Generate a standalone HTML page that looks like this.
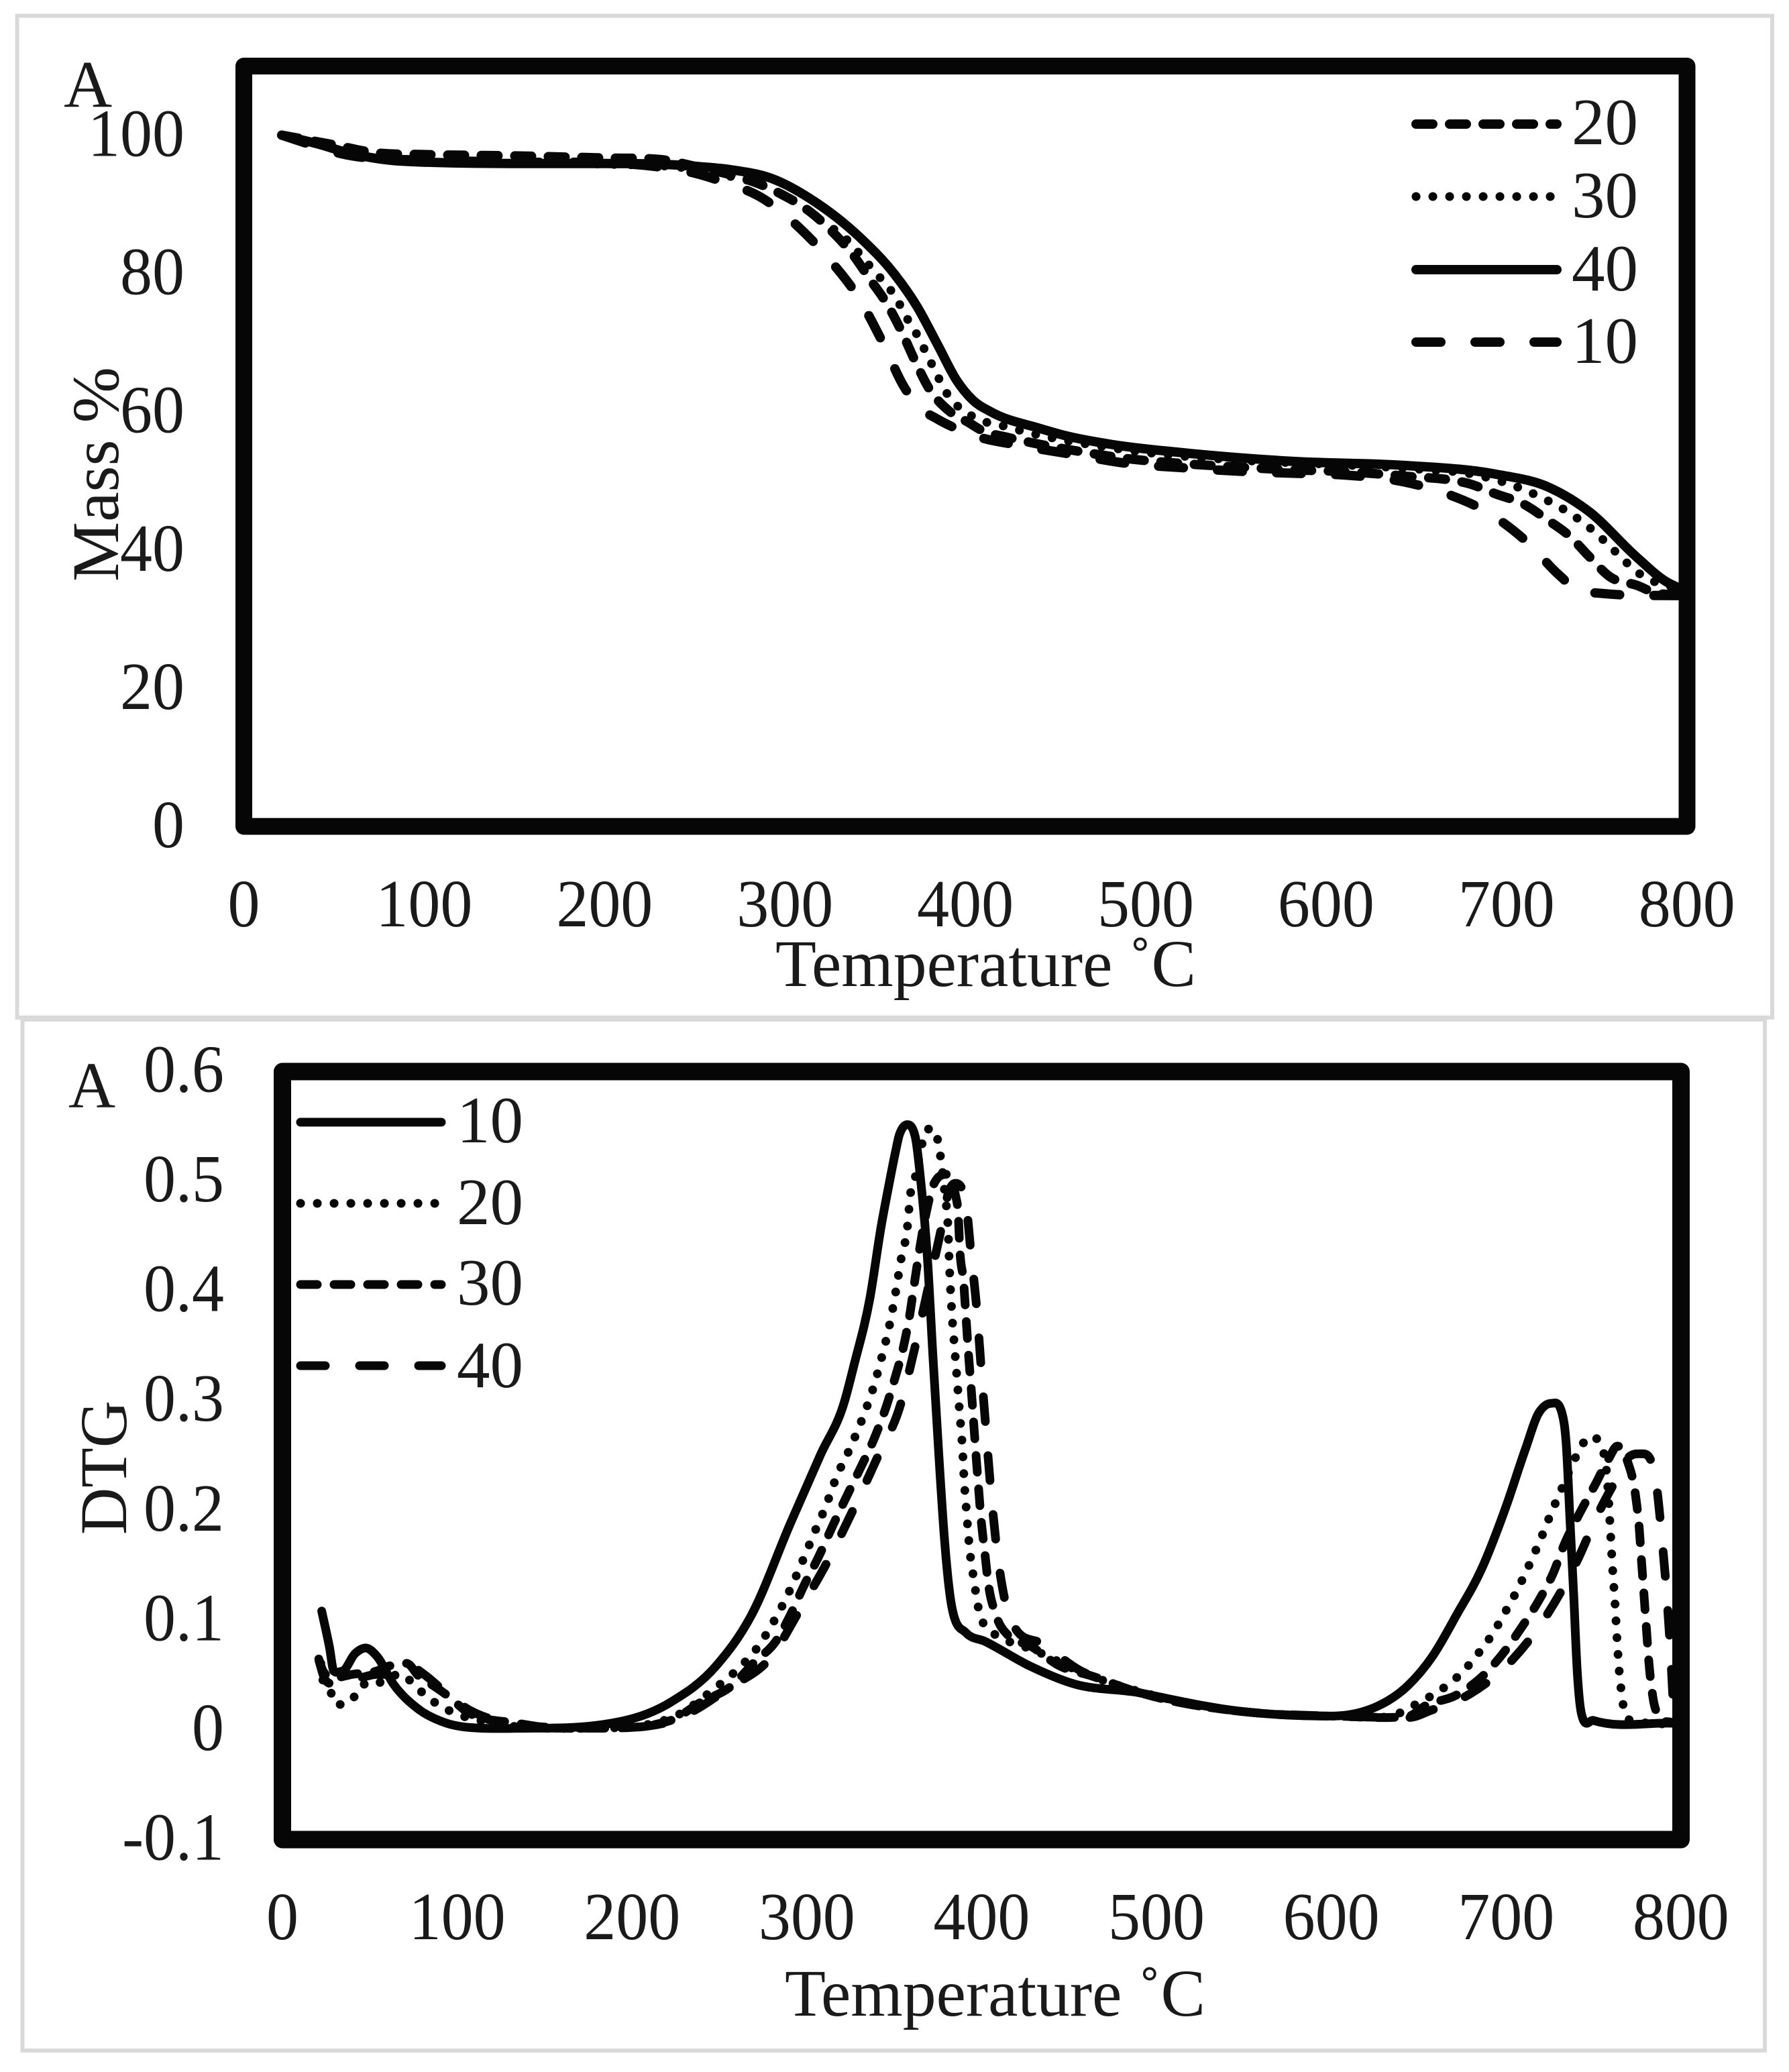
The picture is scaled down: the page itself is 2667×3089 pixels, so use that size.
<!DOCTYPE html>
<html lang="en">
<head>
<meta charset="utf-8">
<title>TGA and DTG curves</title>
<style>
html,body{margin:0;padding:0;background:#fff;}
svg{display:block;}
text{font-family:"Liberation Serif",serif;fill:#1a1a1a;font-size:99px;}
</style>
</head>
<body>
<svg id="fig" xmlns="http://www.w3.org/2000/svg" width="2667" height="3089" viewBox="0 0 2667 3089">
  <rect x="0" y="0" width="2667" height="3089" fill="#fff"/>
  <rect x="25.5" y="23.5" width="2616.5" height="1493.5" fill="none" stroke="#d9d9d9" stroke-width="6"/>
  <rect x="33.5" y="1520" width="2597.5" height="1537" fill="none" stroke="#d9d9d9" stroke-width="6"/>

  <g id="tga-series"></g>
  <g id="dtg-series"></g>

  <rect x="363.5" y="98.5" width="2151.5" height="1133.5" fill="none" stroke="#060606" stroke-width="25" stroke-linejoin="round"/>
  <rect x="421" y="1597.5" width="2085" height="1145" fill="none" stroke="#060606" stroke-width="26" stroke-linejoin="round"/>

  <g id="tga-ticks"></g>
  <g id="dtg-ticks"></g>

  <text x="95" y="159" style="font-size:100px">A</text>
  <text x="102" y="1651" style="font-size:97px">A</text>
  <text x="1156" y="1470" style="font-size:100px" textLength="627" lengthAdjust="spacingAndGlyphs">Temperature ˚C</text>
  <text x="1170" y="3005" style="font-size:100px" textLength="627" lengthAdjust="spacingAndGlyphs">Temperature ˚C</text>
  <text transform="translate(176 867) rotate(-90)" style="font-size:100px" textLength="320" lengthAdjust="spacingAndGlyphs">Mass %</text>
  <text transform="translate(188 2288) rotate(-90)" style="font-size:100px" textLength="200" lengthAdjust="spacingAndGlyphs">DTG</text>

  <g>
    <line x1="2111" y1="185" x2="2321" y2="185" stroke="#060606" stroke-width="14" stroke-linecap="round" stroke-dasharray="25 25"/>
    <line x1="2111" y1="293" x2="2312" y2="293" stroke="#060606" stroke-width="13" stroke-linecap="round" stroke-dasharray="0.1 24.9"/>
    <line x1="2111" y1="402" x2="2321" y2="402" stroke="#060606" stroke-width="14" stroke-linecap="round"/>
    <line x1="2111" y1="510" x2="2321" y2="510" stroke="#060606" stroke-width="14" stroke-linecap="round" stroke-dasharray="37 51"/>
    <text x="2442" y="215" text-anchor="end">20</text>
    <text x="2442" y="324" text-anchor="end">30</text>
    <text x="2442" y="433" text-anchor="end">40</text>
    <text x="2442" y="541" text-anchor="end">10</text>
  </g>
  <g>
    <line x1="448" y1="1673" x2="658" y2="1673" stroke="#060606" stroke-width="13" stroke-linecap="round"/>
    <line x1="448" y1="1794" x2="650" y2="1794" stroke="#060606" stroke-width="13" stroke-linecap="round" stroke-dasharray="0.1 24.9"/>
    <line x1="448" y1="1915" x2="658" y2="1915" stroke="#060606" stroke-width="13" stroke-linecap="round" stroke-dasharray="25 25"/>
    <line x1="448" y1="2036" x2="658" y2="2036" stroke="#060606" stroke-width="13" stroke-linecap="round" stroke-dasharray="37 51"/>
    <text x="780" y="1703" text-anchor="end">10</text>
    <text x="780" y="1825" text-anchor="end">20</text>
    <text x="780" y="1945" text-anchor="end">30</text>
    <text x="780" y="2068" text-anchor="end">40</text>
  </g>
</svg>
<script>
const tgaXTicks = [0,100,200,300,400,500,600,700,800];
const tgaYTicks = [0,20,40,60,80,100];
const dtgXTicks = [0,100,200,300,400,500,600,700,800];
const dtgYTicks = ["-0.1","0","0.1","0.2","0.3","0.4","0.5","0.6"];

const tgaTemp10 = [21,35,47,60,75,100,150,200,230,250,265,288,308,325,341,354,366,375,384,402,435,462,490,520,550,580,612,642,667,691,712,729,739,753,784,800];
const tgaMass10 = [100,98.8,97.8,97,96.6,96.4,96.1,96,95.4,94.5,93.3,90.8,86.6,81.9,76.4,70.1,63.6,60.5,59,56.8,54.9,53.7,52.5,51.9,51.4,51.1,50.8,49.9,48.1,45.2,41,36.4,34.3,33.7,33.4,33.4];
const tgaTemp20 = [21,50,75,100,150,200,230,250,297,314,326,338,347,357,365,372,380,391,402,409,423,435,462,490,520,550,580,612,642,679,694,709,723,735,746,758,772,784,800];
const tgaMass20 = [100,98.6,97.4,97.2,97,96.7,96.5,95.5,91.6,88.9,86.1,82.6,79.2,75.4,71.4,67.4,63.3,60.1,58.4,57.3,56.3,55.6,54.3,53.2,52.5,52,51.6,51.3,50.7,49.6,48.1,46.7,44.3,42,39,36,34.9,33.7,33.5];
const tgaTemp30 = [21,50,75,100,150,200,240,277,285,293,307,317,335,346,352,358,363,367,372,376,380,384,388,393,400,407,420,441,470,500,550,600,650,680,704,720,734,748,761,773,788,800];
const tgaMass30 = [100,98.3,96.6,96.2,96,95.8,95.4,93.6,93.1,92.1,90.2,88.2,84.7,81.4,79.6,77.8,75.8,73.8,71.7,69.7,67.6,65.5,63.4,61.5,60,58.9,58,56.6,55.2,54.1,53,52.4,51.7,51,49.3,47.5,45.5,42.8,39.6,36.7,34.9,34.5];
const tgaTemp40 = [21,40,60,80,100,150,200,230,250,270,293,317,342,361,373,385,395,404,414,441,456,480,519,582,645,693,724,746,772,788,800];
const tgaMass40 = [100,98.8,97.3,96.4,96.1,95.9,95.9,95.8,95.5,95,93.7,90.3,85.1,79.8,75.3,69.5,64.6,61.7,60,57.6,56.5,55.3,54.1,52.8,52.2,51,49,45.5,39,35.5,34];

const dtgTemp10 = [22.5,27,29.4,34.3,41.6,47.7,53.8,63.6,78.3,93,107.7,144,181,222,248,268.5,290.7,307.8,321.6,327,336.1,342.6,346.4,350.7,353,357.6,362,365.4,368.8,372,375.5,379,383,391,402,427.7,453.5,491,500,550,600,625,644,658,672,686,700,711,719,726,732,734.5,736.6,738.7,740.7,743,750,795];
const dtgValue10 = [0.1077,0.074,0.053,0.053,0.069,0.074,0.067,0.041,0.0178,0.006,0.0015,0.001,0.0038,0.0245,0.0575,0.1045,0.188,0.25,0.299,0.332,0.393,0.459,0.4914,0.526,0.542,0.551,0.54,0.496,0.434,0.344,0.25,0.168,0.111,0.088,0.08,0.0575,0.041,0.033,0.03,0.016,0.012,0.02,0.04,0.0666,0.105,0.146,0.203,0.255,0.289,0.297,0.288,0.258,0.1895,0.1216,0.053,0.015,0.008,0.0055];
const dtgTemp20 = [22,23.3,27,30.6,38.7,46.5,52.6,58.7,68.5,75.9,82,88,95.4,105,120,144,181,222,248,260,272,281,289.5,296.7,304,311,317,325,332,338,343,347.4,351,354,357.5,359.3,362,365.7,368.4,373.4,375.5,377,379,380.8,381.5,383,384.5,386,387.5,389,390,391.4,393,395.6,397,398.7,402.4,410.6,430,460,491,550,600,630,650.5,657.8,664.6,671,676.8,682,687.5,692.3,697,701.3,705.5,709.5,713.3,717,720.5,724,727.4,731,738.3,742.2,747.4,753.5,757.7,759.5,760.6,762.5,763.6,765,766,767.5,775,800];
const dtgValue20 = [0.06,0.0436,0.0366,0.0225,0.025,0.041,0.04,0.046,0.05,0.039,0.031,0.0235,0.017,0.011,0.006,0.001,0.001,0.01,0.038,0.054,0.075,0.098,0.124,0.15,0.178,0.204,0.23,0.257,0.284,0.311,0.34,0.369,0.4,0.429,0.457,0.488,0.503,0.532,0.546,0.546,0.531,0.516,0.487,0.456,0.425,0.379,0.348,0.318,0.287,0.257,0.227,0.197,0.166,0.136,0.121,0.106,0.0935,0.084,0.072,0.05,0.034,0.016,0.012,0.011,0.0245,0.031,0.038,0.046,0.055,0.065,0.076,0.087,0.0995,0.112,0.124,0.137,0.15,0.163,0.176,0.19,0.203,0.216,0.243,0.255,0.2665,0.261,0.231,0.186,0.155,0.11,0.079,0.048,0.034,0.018,0.008,0.005];
const dtgTemp30 = [20.8,23.3,30,40,53.8,61,71,78.3,83.2,95.4,106.4,112.6,132,156.6,181,222,239.3,256.5,270.2,282.2,290.7,298.4,307,314.4,322.4,330.5,338.3,345.2,350.7,355.5,359.2,361.8,367.8,373,379.8,385,386.7,387.5,389.7,391,392.3,393.8,395.2,396.6,398.1,399.5,401.6,403.8,408.1,414.9,427.8,445,462,491,550,600,644.3,654,671.4,686,698.4,708.8,718.6,727.2,733.1,741.5,751.2,758.8,763.7,769.5,774.1,776.2,777.5,778.9,780.3,781.7,783.8,787.3,795.2];
const dtgValue30 = [0.064,0.053,0.047,0.05,0.053,0.0576,0.06,0.048,0.043,0.0295,0.015,0.011,0.006,0.001,0.001,0.008,0.0246,0.039,0.0615,0.08,0.1045,0.131,0.158,0.184,0.211,0.2375,0.264,0.293,0.3215,0.35,0.381,0.4095,0.467,0.498,0.5057,0.487,0.467,0.438,0.4074,0.377,0.346,0.3153,0.2846,0.254,0.223,0.1945,0.164,0.133,0.1045,0.086,0.076,0.0574,0.049,0.033,0.016,0.012,0.012,0.0216,0.031,0.0475,0.0694,0.0926,0.117,0.1431,0.1677,0.195,0.2236,0.2468,0.258,0.244,0.2127,0.1827,0.1526,0.1226,0.0912,0.0612,0.0312,0.012,0.006];
const dtgTemp40 = [21,24.5,33,45,53.8,61,73.4,81,93,106.4,120,150,181,222,232.5,254.7,280.4,295.9,312.1,326.7,340.4,353.8,361.8,370.4,376.4,381.5,385,391,393.9,397.3,399.8,402.4,405.1,408.4,413.7,419.2,434.6,456.9,468.9,491,550,600,644.3,657.5,679.7,704,723.1,740.8,752.6,765,771,778.2,783.1,785.9,789.3,792.1,794.2,795.6,797];
const dtgValue40 = [0.062,0.045,0.042,0.047,0.05,0.05,0.057,0.05,0.034,0.018,0.009,0.002,0.001,0.007,0.0144,0.037,0.0676,0.1086,0.1536,0.2007,0.2478,0.2969,0.348,0.4095,0.4525,0.4914,0.4975,0.479,0.434,0.381,0.3276,0.2744,0.221,0.168,0.1147,0.092,0.078,0.053,0.045,0.033,0.016,0.012,0.0107,0.0175,0.0325,0.064,0.1035,0.154,0.1963,0.233,0.249,0.251,0.244,0.2236,0.1718,0.1185,0.0667,0.0257,0.006];

const SVG_NS = "http://www.w3.org/2000/svg";
const tgaX = function(t){ return 363.5 + t * 2.689; };
const tgaY = function(v){ return 1232 - v * 10.305; };
const dtgX = function(t){ return 421 + t * 2.606; };
const dtgY = function(v){ return 2578 - v * 1636; };

function smoothPath(temps, values, xf, yf){
  const xs = temps.map(xf);
  const ys = values.map(yf);
  const n = xs.length;
  const slopes = [];
  for (let i = 0; i < n - 1; i++){
    slopes.push((ys[i + 1] - ys[i]) / (xs[i + 1] - xs[i]));
  }
  const tans = [slopes[0]];
  for (let i = 1; i < n - 1; i++){
    const h0 = xs[i] - xs[i - 1];
    const h1 = xs[i + 1] - xs[i];
    const s0 = slopes[i - 1];
    const s1 = slopes[i];
    const p = (s0 * h1 + s1 * h0) / (h0 + h1);
    const sg = (Math.sign(s0) + Math.sign(s1)) / 2;
    tans.push(2 * sg * Math.min(Math.abs(s0), Math.abs(s1), 0.5 * Math.abs(p)) * 0.5 + 0.5 * p * Math.abs(sg));
  }
  tans.push(slopes[n - 2]);
  let d = "M" + xs[0].toFixed(1) + " " + ys[0].toFixed(1);
  for (let i = 0; i < n - 1; i++){
    const dx = (xs[i + 1] - xs[i]) / 3;
    d += "C" + (xs[i] + dx).toFixed(1) + " " + (ys[i] + tans[i] * dx).toFixed(1) +
         " " + (xs[i + 1] - dx).toFixed(1) + " " + (ys[i + 1] - tans[i + 1] * dx).toFixed(1) +
         " " + xs[i + 1].toFixed(1) + " " + ys[i + 1].toFixed(1);
  }
  return d;
}

function addSeries(parentId, name, temps, values, xf, yf, dash, width){
  const el = document.createElementNS(SVG_NS, "path");
  el.setAttribute("d", smoothPath(temps, values, xf, yf));
  el.setAttribute("fill", "none");
  el.setAttribute("stroke", "#060606");
  el.setAttribute("stroke-width", width);
  el.setAttribute("stroke-linecap", "round");
  el.setAttribute("stroke-linejoin", "round");
  if (dash) el.setAttribute("stroke-dasharray", dash);
  
  
  document.getElementById(parentId).appendChild(el);
}

function addText(parentId, name, str, x, y, anchor){
  const el = document.createElementNS(SVG_NS, "text");
  el.textContent = str;
  el.setAttribute("transform", "translate(" + x + " " + y + ") scale(1 1.05)");
  el.setAttribute("text-anchor", anchor);
  el.setAttribute("style", "font-size:96px");
  
  
  document.getElementById(parentId).appendChild(el);
}

addSeries("tga-series", "tga-line-20", tgaTemp20, tgaMass20, tgaX, tgaY, "25 25", 14);
addSeries("tga-series", "tga-line-30", tgaTemp30, tgaMass30, tgaX, tgaY, "0.1 24.9", 13);
addSeries("tga-series", "tga-line-10", tgaTemp10, tgaMass10, tgaX, tgaY, "37 51", 14);
addSeries("tga-series", "tga-line-40", tgaTemp40, tgaMass40, tgaX, tgaY, "", 14);

addSeries("dtg-series", "dtg-line-20", dtgTemp20, dtgValue20, dtgX, dtgY, "0.1 24.9", 13);
addSeries("dtg-series", "dtg-line-30", dtgTemp30, dtgValue30, dtgX, dtgY, "25 25", 13);
addSeries("dtg-series", "dtg-line-40", dtgTemp40, dtgValue40, dtgX, dtgY, "37 51", 13);
addSeries("dtg-series", "dtg-line-10", dtgTemp10, dtgValue10, dtgX, dtgY, "", 13);

tgaXTicks.forEach(function(t){
  addText("tga-ticks", "tga-x-tick-" + t, String(t), tgaX(t), 1381, "middle");
});
tgaYTicks.forEach(function(v){
  addText("tga-ticks", "tga-y-tick-" + v, String(v), 275, tgaY(v) + 31, "end");
});
dtgXTicks.forEach(function(t){
  addText("dtg-ticks", "dtg-x-tick-" + t, String(t), dtgX(t), 2891, "middle");
});
dtgYTicks.forEach(function(v){
  addText("dtg-ticks", "dtg-y-tick-" + v, v, 334, dtgY(parseFloat(v)) + 31, "end");
});
</script>
</body>
</html>
